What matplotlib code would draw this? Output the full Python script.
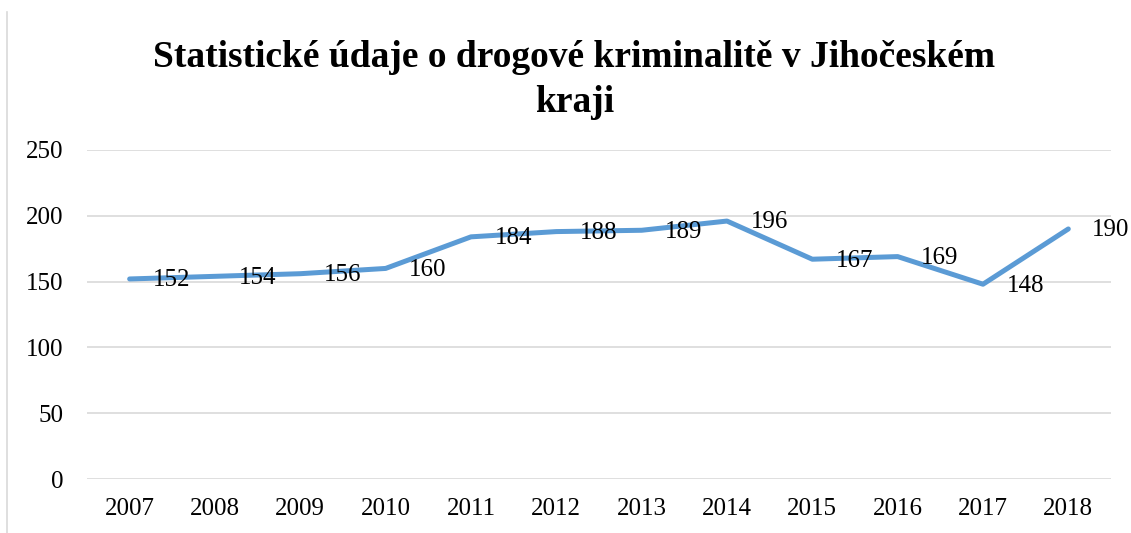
import matplotlib.pyplot as plt
from matplotlib.lines import Line2D

# data
years = ['2007', '2008', '2009', '2010', '2011', '2012',
         '2013', '2014', '2015', '2016', '2017', '2018']
cases = [152, 154, 156, 160, 184, 188, 189, 196, 167, 169, 148, 190]
yticks = [0, 50, 100, 150, 200, 250]

plt.rcParams['font.family'] = ['Liberation Serif', 'DejaVu Serif']

fig = plt.figure(figsize=(11.31, 5.33), dpi=100)
ax = fig.add_axes([0.0769, 0.1013, 0.9054, 0.6173])

x = list(range(len(years)))
ax.plot(x, cases, color='#5B9BD5', lw=3.6, solid_capstyle='round', zorder=3)

# data labels to the right of each point
for xi, v in zip(x, cases):
    ax.annotate(str(v), (xi, v), xytext=(17, -1), textcoords='offset points',
                ha='left', va='center', fontsize=18, color='black', zorder=4)

ax.set_xlim(-0.5, len(years) - 0.5)
ax.set_ylim(0, 250)
ax.set_yticks(yticks)
ax.set_xticks(x)
ax.set_xticklabels(years)
ax.tick_params(length=0, labelsize=18, pad=14)
ax.tick_params(axis='y', pad=17)
ax.grid(axis='y', color='#D9D9D9', lw=1.2)
ax.set_axisbelow(True)
for s in ax.spines.values():
    s.set_visible(False)

fig.text(0.508, 0.850, 'Statistické údaje o drogové kriminalitě v Jihočeském\nkraji',
         ha='center', va='center', fontsize=27, fontweight='bold', linespacing=1.35)

# thin chart border on the left edge
fig.add_artist(Line2D([0.0062, 0.0062], [0, 0.978], color='#D9D9D9', lw=1.2))

plt.savefig('out.png', dpi=100)
